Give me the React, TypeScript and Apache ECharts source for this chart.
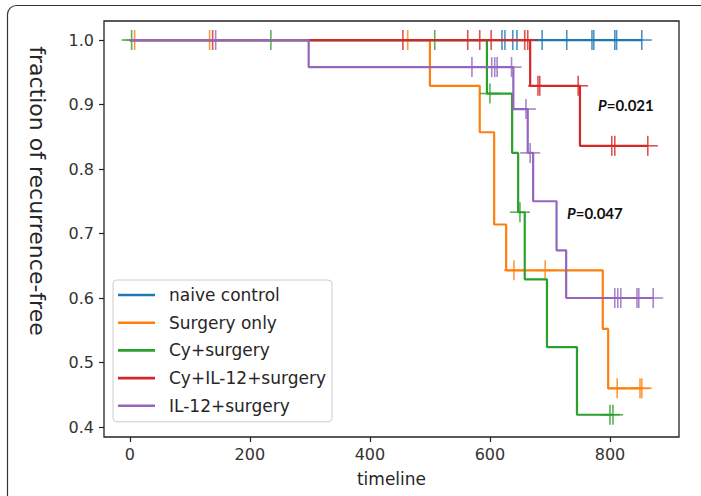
import React, { useEffect, useRef } from "react";
import * as echarts from "echarts";

const seriesNames = ["naive control", "Surgery only", "Cy+surgery", "Cy+IL-12+surgery", "IL-12+surgery"];
const seriesColors = ["#1f77b4", "#ff7f0e", "#2ca02c", "#d62728", "#9467bd"];

// Kaplan-Meier step points: [time, fraction recurrence-free]
const naiveSteps: [number, number][] = [[0, 1], [853, 1]];
const surgerySteps: [number, number][] = [[0, 1], [500, 0.929], [583, 0.857], [607, 0.714], [627, 0.643], [788, 0.552], [797, 0.46], [853, 0.46]];
const cySteps: [number, number][] = [[0, 1], [595, 0.917], [637, 0.825], [647, 0.733], [658, 0.629], [695, 0.524], [745, 0.419], [805, 0.419]];
const cyIl12Steps: [number, number][] = [[0, 1], [667, 0.929], [750, 0.836], [863, 0.836]];
const il12Steps: [number, number][] = [[0, 1], [298, 0.958], [639, 0.893], [663, 0.825], [672, 0.75], [711, 0.674], [727, 0.6], [872, 0.6]];

// censoring times
const naiveCensor = [620, 625, 638, 645, 687, 728, 770, 773, 808, 811, 853];
const surgeryCensor = [8, 133, 463, 640, 692, 812, 850, 853];
const cyCensor = [3, 235, 508, 600, 650, 800, 805];
const cyIl12Censor = [138, 455, 563, 583, 602, 658, 663, 680, 683, 747, 803, 808, 863];
const il12Censor = [143, 570, 603, 608, 612, 636, 660, 667, 808, 813, 818, 845, 848, 872];

const xTicks = [0, 200, 400, 600, 800];
const yTicks = [0.4, 0.5, 0.6, 0.7, 0.8, 0.9, 1.0];
const pLabels = ["0.021", "0.047"];

const allSteps = [naiveSteps, surgerySteps, cySteps, cyIl12Steps, il12Steps];
const allCensor = [naiveCensor, surgeryCensor, cyCensor, cyIl12Censor, il12Censor];

function survivalAt(steps: [number, number][], t: number) {
  let v = steps[0][1];
  for (const [st, sv] of steps) {
    if (st <= t) v = sv;
  }
  return v;
}

const FONT = "DejaVu Sans";

function buildOption() {
  const series: any[] = [];
  allSteps.forEach((steps, i) => {
    series.push({
      name: seriesNames[i],
      type: "line",
      step: "end",
      data: steps,
      symbol: "none",
      showSymbol: false,
      lineStyle: { color: seriesColors[i], width: 2.2 },
      itemStyle: { color: seriesColors[i] },
      z: 2 + i * 2,
    });
    const color = seriesColors[i];
    series.push({
      name: seriesNames[i] + " censored",
      type: "custom",
      data: allCensor[i].map((t) => [t, survivalAt(steps, t)]),
      z: 3 + i * 2,
      renderItem: (params: any, api: any) => {
        const p = api.coord([api.value(0), api.value(1)]);
        const st = { stroke: color, lineWidth: 1.6, opacity: 0.8 };
        return {
          type: "group",
          children: [
            { type: "line", shape: { x1: p[0] - 10, y1: p[1], x2: p[0] + 10, y2: p[1] }, style: st },
            { type: "line", shape: { x1: p[0], y1: p[1] - 10, x2: p[0], y2: p[1] + 10 }, style: st },
          ],
        };
      },
    });
  });

  const pRich = {
    i: { fontFamily: "Lato", fontSize: 15, fontWeight: "bold", fontStyle: "italic", fill: "#111" },
    b: { fontFamily: "Lato", fontSize: 15, fontWeight: "bold", fill: "#111" },
  };

  return {
    animation: false,
    backgroundColor: "#ffffff",
    textStyle: { fontFamily: FONT },
    grid: {
      left: 104,
      right: 22,
      top: 21,
      bottom: 59,
      show: true,
      borderColor: "#222222",
      borderWidth: 1.3,
      backgroundColor: "transparent",
    },
    xAxis: {
      type: "value",
      min: -43,
      max: 915,
      name: "timeline",
      nameLocation: "middle",
      nameGap: 33,
      nameTextStyle: { fontFamily: FONT, fontSize: 17, color: "#262626" },
      axisLine: { show: false, onZero: false },
      axisTick: { show: true, inside: false, length: 5, lineStyle: { color: "#222", width: 1.2 }, customValues: xTicks },
      axisLabel: { show: true, margin: 9, fontFamily: FONT, fontSize: 16, color: "#333", customValues: xTicks },
      splitLine: { show: false },
    },
    yAxis: {
      type: "value",
      min: 0.3845,
      max: 1.0295,
      axisLine: { show: false, onZero: false },
      axisTick: { show: true, inside: false, length: 5, lineStyle: { color: "#222", width: 1.2 }, customValues: yTicks },
      axisLabel: {
        show: true,
        margin: 10,
        fontFamily: FONT,
        fontSize: 16,
        color: "#333",
        customValues: yTicks,
        formatter: (v: number) => v.toFixed(1),
      },
      splitLine: { show: false },
    },
    legend: {
      data: seriesNames,
      orient: "vertical",
      left: 113,
      top: 280,
      icon: "rect",
      itemWidth: 37,
      itemHeight: 2.6,
      itemGap: 7.7,
      padding: [5, 6, 6, 5],
      backgroundColor: "rgba(255,255,255,0.85)",
      borderColor: "#cccccc",
      borderWidth: 1,
      borderRadius: 4,
      textStyle: { fontFamily: FONT, fontSize: 17, color: "#262626", lineHeight: 20, padding: [0, 0, 0, 9] },
    },
    graphic: [
      {
        type: "rect",
        shape: { x: 7.5, y: 5.5, width: 740, height: 540, r: 9 },
        style: { fill: "none", stroke: "#333", lineWidth: 1.2 },
        z: 100,
        silent: true,
      },
      {
        type: "text",
        x: 37,
        y: 191,
        rotation: -Math.PI / 2,
        style: {
          text: "fraction of recurrence-free",
          fontFamily: FONT,
          fontSize: 22,
          fill: "#262626",
          align: "center",
          verticalAlign: "middle",
        },
        z: 100,
      },
      {
        type: "text",
        x: 598,
        y: 105,
        style: { text: "{i|P}{b|=" + pLabels[0] + "}", verticalAlign: "middle", rich: pRich },
        z: 100,
      },
      {
        type: "text",
        x: 567,
        y: 213,
        style: { text: "{i|P}{b|=" + pLabels[1] + "}", verticalAlign: "middle", rich: pRich },
        z: 100,
      },
    ],
    series,
  };
}

export default function App() {
  const ref = useRef<HTMLDivElement>(null);
  useEffect(() => {
    if (!ref.current) return;
    const chart = echarts.init(ref.current, null, { renderer: "svg" });
    chart.setOption(buildOption() as any);
    return () => chart.dispose();
  }, []);
  return (
    <div
      ref={ref}
      style={{ position: "fixed", left: 0, top: 0, width: 701, height: 496, background: "#ffffff" }}
    />
  );
}
